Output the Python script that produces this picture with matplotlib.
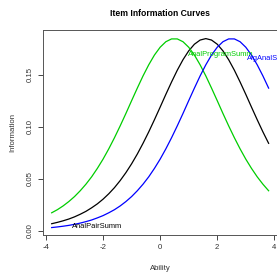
import matplotlib
matplotlib.use("Agg")
from matplotlib import pyplot as plt

# ability grid and item information values
ability = [-3.8, -3.6, -3.4, -3.2, -3.0, -2.8, -2.6, -2.4, -2.2, -2.0,
           -1.8, -1.6, -1.4, -1.2, -1.0, -0.8, -0.6, -0.4, -0.2, 0.0,
           0.2, 0.4, 0.6, 0.8, 1.0, 1.2, 1.4, 1.6, 1.8, 2.0,
           2.2, 2.4, 2.6, 2.8, 3.0, 3.2, 3.4, 3.6, 3.8]

info_pair = [0.0070, 0.0083, 0.0098, 0.0115, 0.0136, 0.0161, 0.0189, 0.0223, 0.0261, 0.0306,
             0.0358, 0.0417, 0.0485, 0.0561, 0.0646, 0.0740, 0.0843, 0.0953, 0.1070, 0.1191,
             0.1314, 0.1433, 0.1546, 0.1647, 0.1732, 0.1796, 0.1836, 0.1850, 0.1836, 0.1796,
             0.1732, 0.1647, 0.1546, 0.1433, 0.1314, 0.1191, 0.1070, 0.0953, 0.0843]

info_program = [0.0175, 0.0205, 0.0241, 0.0283, 0.0331, 0.0387, 0.0450, 0.0521, 0.0602, 0.0691,
                0.0790, 0.0897, 0.1011, 0.1130, 0.1253, 0.1374, 0.1491, 0.1598, 0.1692, 0.1767,
                0.1820, 0.1847, 0.1847, 0.1820, 0.1767, 0.1692, 0.1598, 0.1491, 0.1374, 0.1253,
                0.1130, 0.1011, 0.0897, 0.0790, 0.0691, 0.0602, 0.0521, 0.0450, 0.0387]

info_alg = [0.0033, 0.0039, 0.0046, 0.0054, 0.0064, 0.0076, 0.0090, 0.0106, 0.0126, 0.0148,
            0.0175, 0.0205, 0.0241, 0.0283, 0.0331, 0.0387, 0.0450, 0.0521, 0.0602, 0.0691,
            0.0790, 0.0897, 0.1011, 0.1130, 0.1253, 0.1374, 0.1491, 0.1598, 0.1692, 0.1767,
            0.1820, 0.1847, 0.1847, 0.1820, 0.1767, 0.1692, 0.1598, 0.1491, 0.1374]

item_names = ["AnalPairSumm", "AnalProgramSumm", "AlgAnalSumm"]
item_colors = ["black", "#00CD00", "#0000FF"]
# where the item names sit (ability, information)
label_x = [-3.09, 0.97, 3.04]
label_y = [0.0048, 0.170, 0.166]

xticks = [-4, -2, 0, 2, 4]
yticks = [0.00, 0.05, 0.10, 0.15]

plt.rcParams['font.family'] = ['Liberation Sans', 'DejaVu Sans']

W, H = 277, 272
fig = plt.figure(figsize=(W / 100, H / 100), dpi=100)
ax = fig.add_axes([43 / W, 1 - 235 / H, (277.3 - 43) / W, (235 - 30) / H])

for vals, col in zip([info_pair, info_program, info_alg], item_colors):
	ax.plot(ability, vals, color=col, lw=0.9)

for name, col, lx, ly in zip(item_names, item_colors, label_x, label_y):
	ax.text(lx, ly, name, color=col, fontsize=5.4, ha='left', va='center', clip_on=False)

ax.set_xlim(-4.104, 4.104)
ax.set_ylim(-0.00385, 0.19327)
ax.set_xticks(xticks)
ax.set_xticklabels([str(t) for t in xticks])
ax.set_yticks(yticks)
ax.set_yticklabels(["%.2f" % t for t in yticks], rotation=90, va='center')
ax.tick_params(length=3.5, width=0.7, colors='#444444', labelsize=5.6, labelcolor='#333333', pad=3)
for sp in ax.spines.values():
	sp.set_color('#555555')
	sp.set_linewidth(0.7)

fig.text(160 / W, 1 - 13 / H, "Item Information Curves", ha='center', va='center',
	fontsize=6.2, fontweight='bold')
fig.text(160 / W, 1 - 269 / H, "Ability", ha='center', va='center', fontsize=5.6, color='#333333')
fig.text(13 / W, 1 - 132.5 / H, "Information", ha='center', va='center', rotation=90,
	fontsize=5.6, color='#333333')

fig.savefig("out.png", dpi=100)
